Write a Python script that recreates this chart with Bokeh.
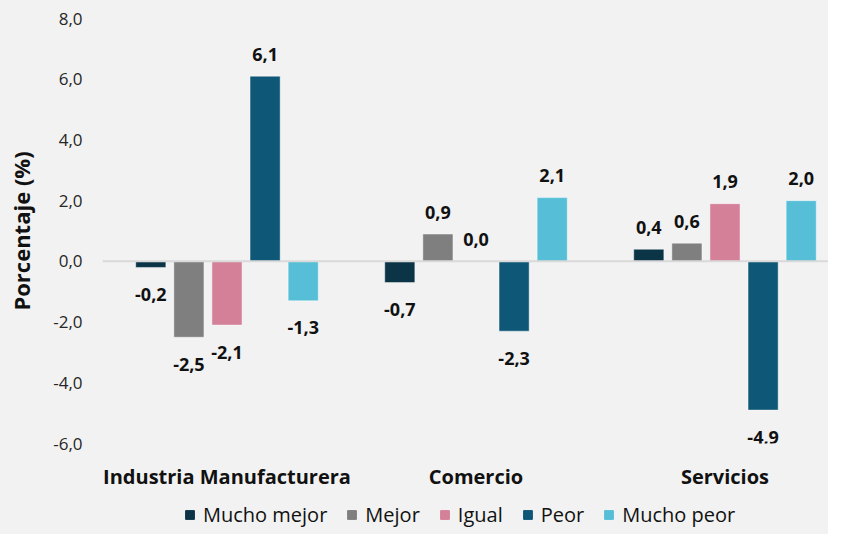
from bokeh.plotting import figure
from bokeh.layouts import column
from bokeh.models import ColumnDataSource, Range1d, FixedTicker, Legend, LegendItem, Span
from bokeh.core.properties import value
from bokeh.embed import file_html
from bokeh.resources import INLINE

categories = ["Industria Manufacturera", "Comercio", "Servicios"]
series = ["Mucho mejor", "Mejor", "Igual", "Peor", "Mucho peor"]
mucho_mejor = [-0.2, -0.7, 0.4]
mejor = [-2.5, 0.9, 0.6]
igual = [-2.1, 0.0, 1.9]
peor = [6.1, -2.3, -4.9]
mucho_peor = [-1.3, 2.1, 2.0]
values_by_series = [mucho_mejor, mejor, igual, peor, mucho_peor]
colors = ["#0B3447", "#7F7F7F", "#D48099", "#0F5777", "#56BFD7"]
y_ticks = [-6, -4, -2, 0, 2, 4, 6, 8]

FONT = "Open Sans"
BG = "#F2F2F2"

p = figure(width=828, height=494, output_backend="svg", toolbar_location=None,
           x_range=Range1d(0, 726 / 249), y_range=Range1d(-6, 8),
           min_border_left=102, min_border_right=0, min_border_top=18, min_border_bottom=51)
p.background_fill_color = BG
p.border_fill_color = BG
p.outline_line_color = None
p.xgrid.grid_line_color = None
p.ygrid.grid_line_color = None

bar_w = 0.121
step = 0.153
centers = [i + 0.5 for i in range(len(categories))]

sources = []
lx, ly, lt, loff = [], [], [], []
for j, (name, vals, col) in enumerate(zip(series, values_by_series, colors)):
    xs = [c + (j - 2) * step for c in centers]
    src = ColumnDataSource(dict(x=xs, top=vals))
    sources.append(src)
    p.vbar(x="x", top="top", bottom=0, width=bar_w, source=src,
           fill_color=col, line_color="white", line_alpha=0.45, line_width=1)
    for x, v in zip(xs, vals):
        lx.append(x)
        ly.append(v)
        lt.append(f"{v:.1f}".replace(".", ","))
        loff.append(-22 if v >= 0 else 27)

p.add_layout(Span(location=0, dimension="width", line_color="#D9D9D9", line_width=2))

lsrc = ColumnDataSource(dict(x=lx, y=ly, t=lt, off=loff))
p.text(x="x", y="y", text="t", y_offset="off", source=lsrc,
       text_align="center", text_baseline="middle",
       text_font=value(FONT), text_font_style="bold", text_font_size="18px",
       text_color="#111111")

p.yaxis.ticker = FixedTicker(ticks=y_ticks)
p.yaxis.major_label_overrides = {t: f"{t:.1f}".replace(".", ",") for t in y_ticks}
p.yaxis.axis_label = "Porcentaje (%)"
p.yaxis.axis_label_text_font = FONT
p.yaxis.axis_label_text_font_style = "bold"
p.yaxis.axis_label_text_font_size = "22px"
p.yaxis.axis_label_text_color = "#111111"
p.yaxis.axis_label_standoff = 14
p.yaxis.major_label_standoff = 20

p.xaxis.ticker = FixedTicker(ticks=centers)
p.xaxis.major_label_overrides = {c: cat for c, cat in zip(centers, categories)}
p.xaxis.major_label_text_font_style = "bold"
p.xaxis.major_label_text_font_size = "20px"
p.xaxis.major_label_text_color = "#111111"
p.xaxis.major_label_standoff = 19

for ax in (p.xaxis, p.yaxis):
    ax.axis_line_color = None
    ax.major_tick_line_color = None
    ax.minor_tick_line_color = None
    ax.major_tick_out = 0
    ax.major_tick_in = 0
    ax.major_label_text_font = FONT
p.yaxis.major_label_text_font_size = "17px"
p.yaxis.major_label_text_color = "#262626"

# legend strip (uses the same data sources, renderers hidden)
pl = figure(width=828, height=40, output_backend="svg", toolbar_location=None,
            x_axis_type=None, y_axis_type=None,
            x_range=Range1d(0, 1), y_range=Range1d(0, 1),
            min_border_left=0, min_border_right=0, min_border_top=0, min_border_bottom=0)
pl.background_fill_alpha = 0
pl.border_fill_alpha = 0
pl.outline_line_color = None
pl.grid.visible = False
items = []
for name, col, src in zip(series, colors, sources):
    r = pl.vbar(x="x", top="top", width=0.1, source=src, fill_color=col, line_color=col,
                visible=False)
    items.append(LegendItem(label=name, renderers=[r]))
legend = Legend(items=items, orientation="horizontal", location=(82, 6),
                label_text_font=FONT, label_text_font_size="20px", label_text_color="#111111",
                glyph_width=11, glyph_height=11, label_standoff=8, spacing=19,
                inactive_fill_alpha=0,
                background_fill_alpha=0, border_line_color=None, padding=2, margin=0)
pl.add_layout(legend, "center")

layout = column(p, pl, spacing=0, styles={"background-color": BG})
open("out.html", "w").write(file_html(layout, INLINE))
